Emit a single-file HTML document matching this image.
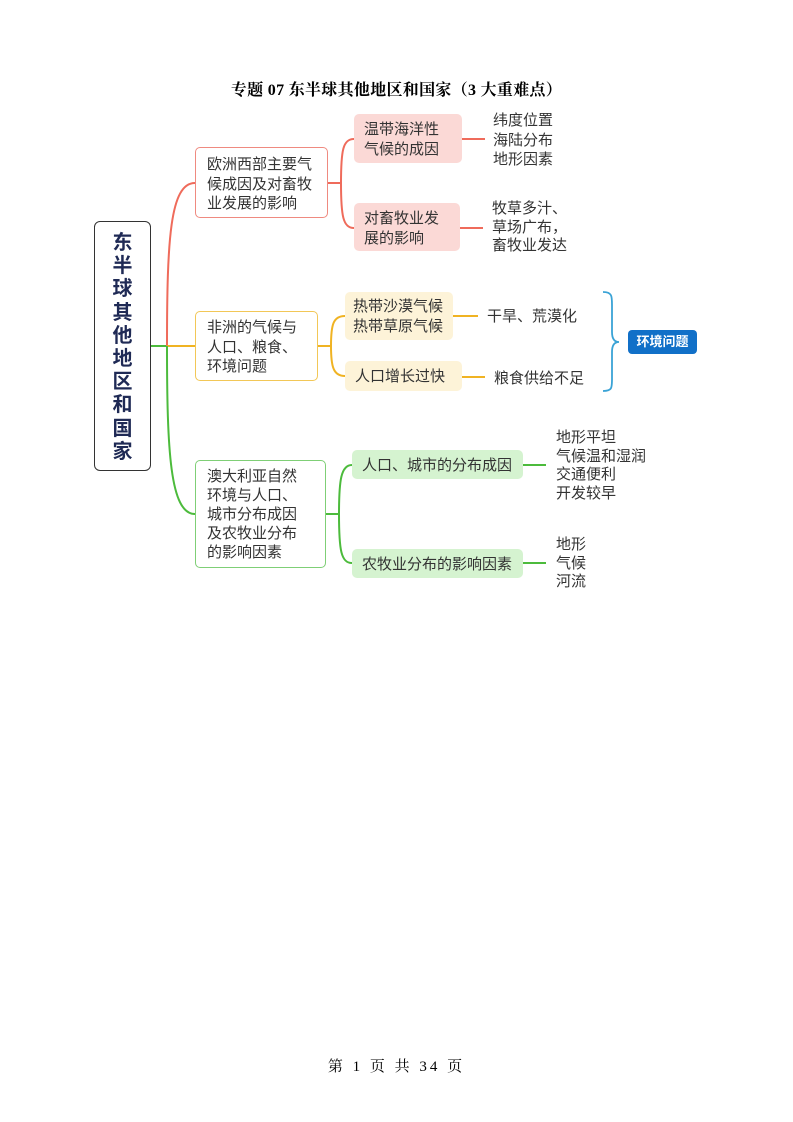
<!DOCTYPE html>
<html><head><meta charset="utf-8">
<style>
body{margin:0;width:793px;height:1122px;background:#fff;position:relative;overflow:hidden;font-family:"Liberation Sans","Noto Sans CJK SC",sans-serif;color:#333}
.a{position:absolute;white-space:nowrap}
.t{font-size:15px;line-height:19.5px}
.box{position:absolute;box-sizing:border-box;border-radius:5px}
</style></head><body>
<div class="a" style="left:0;width:793px;top:77px;text-align:center;font-family:'Liberation Serif','Noto Serif CJK SC',serif;font-weight:bold;font-size:16px;letter-spacing:0.3px;color:#000">专题 07  东半球其他地区和国家（3 大重难点）</div>

<svg class="a" style="left:0;top:0" width="793" height="700">
<g fill="none" stroke-width="2">
<path d="M151 346 H167" stroke="#4cbb3c"/>
<path d="M167 346 C167 240 170 183 195 183" stroke="#ef6b5b"/>
<path d="M167 346 H195" stroke="#f0b323"/>
<path d="M167 346 C167 450 170 514 195 514" stroke="#4cbb3c"/>
<path d="M328 183 H341 M341 183 C341 150 343 139 354 139 M341 183 C341 216 343 228 354 228" stroke="#ef6b5b"/>
<path d="M462 139 H485 M460 228 H483" stroke="#ef6b5b"/>
<path d="M318 346 H331 M331 346 C331 325 333 316 345 316 M331 346 C331 366 333 376 345 376" stroke="#f0b323"/>
<path d="M453 316 H478 M462 377 H485" stroke="#f0b323"/>
<path d="M326 514 H339 M339 514 C339 480 341 465 352 465 M339 514 C339 550 341 563 352 563" stroke="#4cbb3c"/>
<path d="M523 465 H546 M523 563 H546" stroke="#4cbb3c"/>
<path d="M603 292 C612 292 612 296 612 305 V332 C612 338 614 342 619 342 C614 342 612 346 612 352 V379 C612 388 612 391 603 391" stroke="#3aa3d6" stroke-width="1.8"/>
</g>
</svg>

<div class="box" style="left:94px;top:221px;width:57px;height:250px;border:1.5px solid #333;border-radius:6px"></div>
<div class="a" style="left:94px;top:232px;width:57px;text-align:center;font-weight:bold;font-size:20px;line-height:23.2px;color:#1f2a55;white-space:normal">东<br>半<br>球<br>其<br>他<br>地<br>区<br>和<br>国<br>家</div>

<div class="box" style="left:195px;top:147px;width:133px;height:71px;border:1.3px solid #ef8a80"></div>
<div class="a t" style="left:207px;top:155px">欧洲西部主要气<br>候成因及对畜牧<br>业发展的影响</div>
<div class="box" style="left:354px;top:114px;width:108px;height:49px;background:#fbd9d6"></div>
<div class="a t" style="left:364px;top:120px">温带海洋性<br>气候的成因</div>
<div class="box" style="left:354px;top:203px;width:106px;height:48px;background:#fbd9d6"></div>
<div class="a t" style="left:364px;top:209px">对畜牧业发<br>展的影响</div>
<div class="a t" style="left:493px;top:111px">纬度位置<br>海陆分布<br>地形因素</div>
<div class="a t" style="left:492px;top:200px;line-height:18.5px">牧草多汁、<br>草场广布，<br>畜牧业发达</div>

<div class="box" style="left:195px;top:311px;width:123px;height:70px;border:1.3px solid #f2c757"></div>
<div class="a t" style="left:207px;top:318px">非洲的气候与<br>人口、粮食、<br>环境问题</div>
<div class="box" style="left:345px;top:292px;width:108px;height:48px;background:#fdf3d8"></div>
<div class="a t" style="left:353px;top:297px">热带沙漠气候<br>热带草原气候</div>
<div class="box" style="left:345px;top:361px;width:117px;height:30px;background:#fdf3d8"></div>
<div class="a t" style="left:355px;top:367px">人口增长过快</div>
<div class="a t" style="left:487px;top:307px">干旱、荒漠化</div>
<div class="a t" style="left:494px;top:369px">粮食供给不足</div>
<div class="box" style="left:628px;top:330px;width:69px;height:24px;background:#1170c8;border-radius:4px"></div>
<div class="a" style="left:628px;top:330px;width:69px;text-align:center;line-height:24px;font-size:13px;font-weight:bold;color:#fff">环境问题</div>

<div class="box" style="left:195px;top:460px;width:131px;height:108px;border:1.3px solid #7fcf76"></div>
<div class="a t" style="left:207px;top:467px;line-height:19px">澳大利亚自然<br>环境与人口、<br>城市分布成因<br>及农牧业分布<br>的影响因素</div>
<div class="box" style="left:352px;top:450px;width:171px;height:29px;background:#d5f3d0"></div>
<div class="a t" style="left:362px;top:456px">人口、城市的分布成因</div>
<div class="box" style="left:352px;top:549px;width:171px;height:29px;background:#d5f3d0"></div>
<div class="a t" style="left:362px;top:555px">农牧业分布的影响因素</div>
<div class="a t" style="left:556px;top:429px;line-height:18.7px">地形平坦<br>气候温和湿润<br>交通便利<br>开发较早</div>
<div class="a t" style="left:556px;top:536px;line-height:18.7px">地形<br>气候<br>河流</div>

<div class="a" style="left:0;width:793px;top:1055px;text-align:center;font-family:'Liberation Serif','Noto Serif CJK SC',serif;font-size:15px;letter-spacing:3px;color:#000">第 1 页 共 34 页</div>
</body></html>
